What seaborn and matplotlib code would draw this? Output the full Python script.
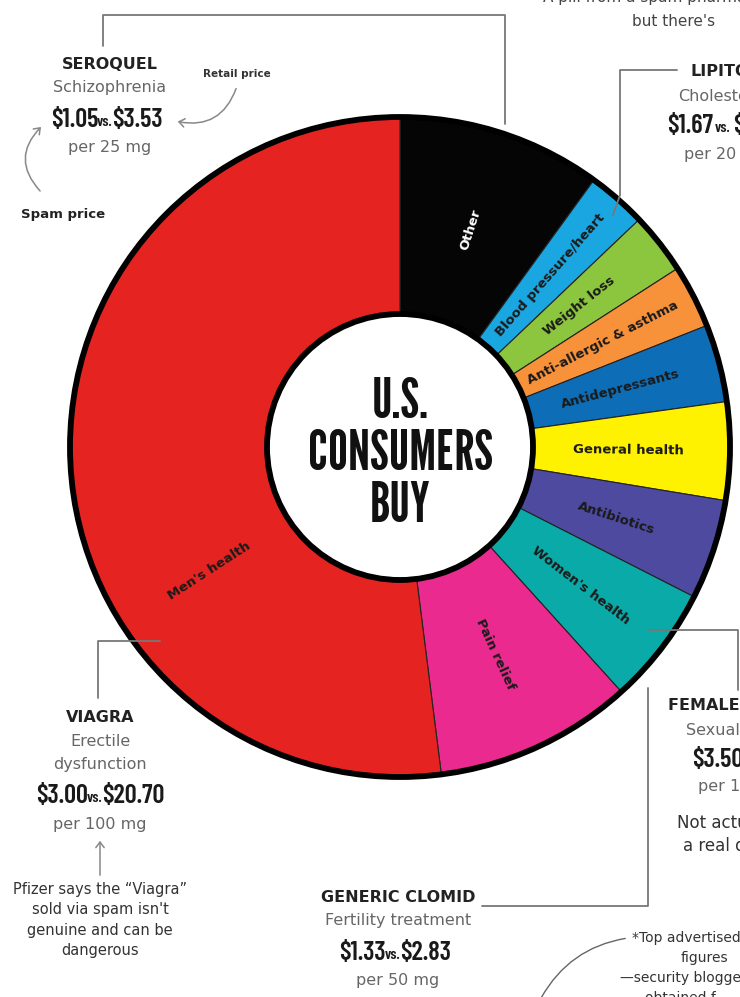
import matplotlib
matplotlib.use("Agg")
import matplotlib.pyplot as plt
import seaborn as sns
import pandas as pd
import numpy as np
from matplotlib.patches import Circle, FancyArrowPatch

# share of spam drugs bought by U.S. consumers (clockwise from 12 o'clock)
categories = ["Other", "Blood pressure/heart", "Weight loss", "Anti-allergic & asthma",
              "Antidepressants", "General health", "Antibiotics", "Women's health",
              "Pain relief", "Men's health"]
shares = [10.0, 2.9, 3.0, 3.1, 3.8, 4.8, 4.9, 5.8, 9.7, 52.0]
slice_colors = ["#050505", "#1aa7e1", "#8cc63f", "#f7923a", "#0d6eb7",
                "#fff200", "#4e4aa0", "#0aaaa8", "#ea2a8e", "#e52421"]
label_colors = ["white"] + ["#1a1a1a"] * 9

drug_names = ["SEROQUEL", "LIPITOR", "FEMALE VIAGRA", "VIAGRA", "GENERIC CLOMID"]
drug_uses = ["Schizophrenia", "Cholesterol", "Sexual dysfunction", "Erectile\ndysfunction", "Fertility treatment"]
spam_prices = ["$1.05", "$1.67", "$3.50", "$3.00", "$1.33"]
retail_prices = ["$3.53", "$3.19", "$10.00", "$20.70", "$2.83"]
doses = ["per 25 mg", "per 20 mg", "per 100 mg", "per 100 mg", "per 50 mg"]

df = pd.DataFrame({"category": categories, "share": shares, "color": slice_colors})

sns.set_theme(style="white")
plt.rcParams["font.family"] = ["DejaVu Sans"]
NARROW = ["Barlow Condensed", "Oswald", "DejaVu Sans"]
TITLE = ["League Gothic", "Barlow Condensed", "DejaVu Sans"]

W, H = 740, 997
def Y(y):
    return H - y

fig = plt.figure(figsize=(7.4, 9.97), dpi=100)
ax = fig.add_axes([0, 0, 1, 1])

cx, cy = 400, Y(447)
R_OUT, R_IN = 330, 133

wedges, _ = ax.pie(df["share"], colors=df["color"], startangle=90, counterclock=False,
                   radius=R_OUT, center=(cx, cy),
                   wedgeprops=dict(width=R_OUT - R_IN, edgecolor="#222222", linewidth=0.8))
ax.set_xlim(0, W)
ax.set_ylim(0, H)
ax.set_aspect("equal")
ax.axis("off")

ax.add_patch(Circle((cx, cy), R_OUT, fill=False, ec="black", lw=4.2, zorder=5))
ax.add_patch(Circle((cx, cy), R_IN, fc="white", ec="black", lw=4.2, zorder=5))

for w, cat, tc in zip(wedges, df["category"], label_colors):
    mid = (w.theta1 + w.theta2) / 2
    mid = (mid + 180) % 360 - 180
    if cat == "Men's health":
        mid = -147
    r = 228
    x = cx + r * np.cos(np.radians(mid))
    y = cy + r * np.sin(np.radians(mid))
    rot = mid if -90 <= mid <= 90 else mid + 180
    ax.text(x, y, cat, rotation=rot, rotation_mode="anchor", ha="center", va="center",
            fontsize=9.5, fontweight="bold", color=tc, zorder=6)

for txt, yy in [("U.S.", 402), ("CONSUMERS", 455), ("BUY", 506)]:
    ax.text(cx, Y(yy), txt, fontsize=40, family=TITLE, ha="center", va="center",
            color="#111111", zorder=7)

line_kw = dict(color="#777777", lw=1.3, zorder=8)
price_kw = dict(family=NARROW, fontweight="semibold", color="#1a1a1a", va="center")

def price(x, y, i, ha="center"):
    # spam price "vs." retail price, in condensed type
    if ha == "center":
        ax.text(x - 7, Y(y), spam_prices[i], fontsize=19, ha="right", parse_math=False, **price_kw)
        ax.text(x, Y(y + 2), "vs.", fontsize=11, ha="center", **price_kw)
        ax.text(x + 7, Y(y), retail_prices[i], fontsize=19, ha="left", parse_math=False, **price_kw)
    else:
        t = ax.text(x, Y(y), spam_prices[i], fontsize=19, ha="left", parse_math=False, **price_kw)
        v = ax.annotate("vs.", xycoords=t, xy=(1, 0.5), xytext=(1.5, -1.5), textcoords="offset points",
                        fontsize=11, ha="left", **price_kw)
        ax.annotate(retail_prices[i], xycoords=v, xy=(1, 0.5), xytext=(1.5, 1.5), textcoords="offset points",
                    fontsize=19, ha="left", annotation_clip=False, parse_math=False, **price_kw)

def drug_block(x, y0, i):
    ax.text(x, Y(y0), drug_names[i], fontsize=11.5, fontweight="bold", color="#222222", ha="center", va="center")
    yy = y0 + 23
    for u in drug_uses[i].split("\n"):
        ax.text(x, Y(yy), u, fontsize=11.5, color="#666666", ha="center", va="center")
        yy += 23
    yy += 9
    price(x - 5, yy, i)
    ax.text(x, Y(yy + 28), doses[i], fontsize=11.5, color="#666666", ha="center", va="center")

# Seroquel
ax.plot([103, 103, 505, 505], [Y(46), Y(15), Y(15), Y(124)], **line_kw)
drug_block(110, 65, 0)
ax.text(237, Y(74), "Retail price", fontsize=7.5, fontweight="bold", color="#333333", ha="center", va="center")
ax.add_patch(FancyArrowPatch((237, Y(86)), (175, Y(121)), connectionstyle="arc3,rad=-0.45",
                             arrowstyle="->,head_length=4,head_width=3", color="#888888", lw=1.1))
ax.text(63, Y(215), "Spam price", fontsize=9.5, fontweight="bold", color="#222222", ha="center", va="center")
ax.add_patch(FancyArrowPatch((42, Y(193)), (43, Y(125)), connectionstyle="arc3,rad=-0.5",
                             arrowstyle="->,head_length=4,head_width=3", color="#888888", lw=1.1))

# top-right intro text (cut by the frame)
ax.text(543, Y(-2), "A pill from a spam pharmacy", fontsize=11, color="#444444", ha="left", va="center")
ax.text(632, Y(22), "but there's", fontsize=11, color="#444444", ha="left", va="center")

# Lipitor (partly outside the frame)
ax.plot([677, 620, 620, 613], [Y(70), Y(70), Y(195), Y(215)], **line_kw)
ax.text(690, Y(72), drug_names[1], fontsize=11.5, fontweight="bold", color="#222222", ha="left", va="center")
ax.text(678, Y(97), drug_uses[1], fontsize=11.5, color="#666666", ha="left", va="center")
price(667, 126, 1, ha="left")
ax.text(684, Y(155), doses[1], fontsize=11.5, color="#666666", ha="left", va="center")

# Female Viagra (partly outside the frame)
ax.plot([648, 738, 738], [Y(630), Y(630), Y(690)], **line_kw)
ax.text(668, Y(705), drug_names[2], fontsize=11.5, fontweight="bold", color="#222222", ha="left", va="center")
ax.text(686, Y(730), drug_uses[2], fontsize=11.5, color="#666666", ha="left", va="center")
price(692, 760, 2, ha="left")
ax.text(698, Y(787), doses[2], fontsize=11.5, color="#666666", ha="left", va="center")
ax.text(677, Y(823), "Not actually", fontsize=12, color="#333333", ha="left", va="center")
ax.text(683, Y(846), "a real drug", fontsize=12, color="#333333", ha="left", va="center")

# Viagra
ax.plot([160, 98, 98], [Y(641), Y(641), Y(698)], **line_kw)
drug_block(100, 718, 3)
ax.add_patch(FancyArrowPatch((100, Y(878)), (100, Y(838)), arrowstyle="->,head_length=4,head_width=3",
                             color="#888888", lw=1.1))
ax.text(100, Y(920), "Pfizer says the \u201cViagra\u201d\nsold via spam isn't\ngenuine and can be\ndangerous",
        fontsize=10.5, color="#333333", ha="center", va="center", linespacing=1.45)

# Generic Clomid
ax.plot([482, 648, 648], [Y(906), Y(906), Y(688)], **line_kw)
drug_block(398, 898, 4)

# footnote
ax.text(632, Y(938), "*Top advertised", fontsize=10, color="#333333", ha="left", va="center")
ax.text(681, Y(958), "figures", fontsize=10, color="#333333", ha="left", va="center")
ax.text(620, Y(978), "\u2014security blogger", fontsize=10, color="#333333", ha="left", va="center")
ax.text(645, Y(998), "obtained f", fontsize=10, color="#333333", ha="left", va="center")
ax.add_patch(FancyArrowPatch((628, Y(938)), (540, Y(1000)), connectionstyle="arc3,rad=0.25",
                             arrowstyle="-", color="#666666", lw=1.0))

fig.savefig("out.png", dpi=100, facecolor="white")
